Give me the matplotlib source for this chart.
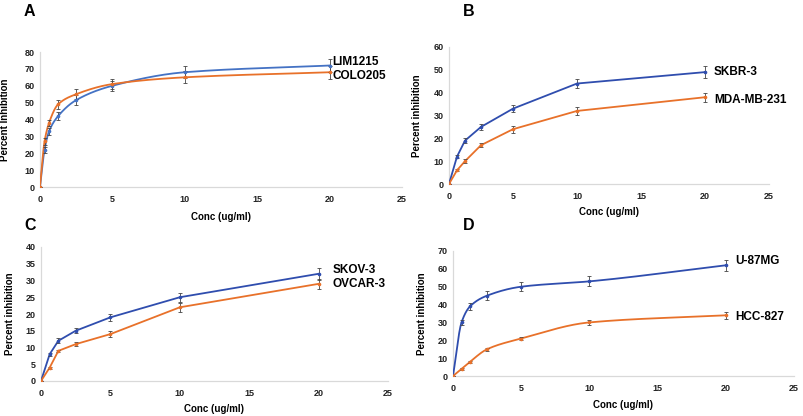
import numpy as np
import matplotlib
matplotlib.use('Agg')
import matplotlib.pyplot as plt

plt.rcParams['font.family'] = ['Liberation Sans', 'DejaVu Sans']
plt.rcParams['font.weight'] = 'bold'

# data
conc_a = [0, 0.3125, 0.625, 1.25, 2.5, 5, 10, 20]
lim1215 = [0, 22, 33, 42, 51.5, 60, 68, 72]
lim1215_err = [0, 2, 2, 2.5, 3, 3, 3.5, 4]
colo205 = [0, 27, 38, 49, 55, 61, 65, 68]
colo205_err = [0, 2, 2, 2.5, 3, 3, 3.5, 4]

conc = [0, 0.625, 1.25, 2.5, 5, 10, 20]
skbr3 = [0, 12, 19, 25, 33, 44, 49]
skbr3_err = [0, 0.8, 1.2, 1.2, 1.5, 2, 2.5]
mda231 = [0, 6, 10, 17, 24, 32, 38]
mda231_err = [0, 0.5, 0.8, 1, 1.5, 1.8, 2]

skov3 = [0, 8, 12, 15, 19, 25, 32]
skov3_err = [0, 0.5, 0.7, 0.8, 1, 1.3, 1.8]
ovcar3 = [0, 4, 9, 11, 14, 22, 29]
ovcar3_err = [0, 0.3, 0.4, 0.7, 0.9, 1.3, 1.5]

u87mg = [0, 30, 39, 45, 50, 53, 62]
u87mg_err = [0, 1.5, 2, 2.5, 2.5, 2.8, 3]
hcc827 = [0, 4, 8, 15, 21, 30, 34]
hcc827_err = [0, 0.5, 0.6, 0.8, 1, 1.2, 1.8]

blue_a = '#4472C4'
blue = '#2F4DAE'
orange = '#E8712A'


def pchip(x, y, n=400):
    # monotone cubic, used for the smoothed curves (A and D)
    x = np.asarray(x, float)
    y = np.asarray(y, float)
    h = np.diff(x)
    d = np.diff(y) / h
    m = np.zeros_like(y)
    for k in range(1, len(x) - 1):
        if d[k - 1] * d[k] > 0:
            w1 = 2 * h[k] + h[k - 1]
            w2 = h[k] + 2 * h[k - 1]
            m[k] = (w1 + w2) / (w1 / d[k - 1] + w2 / d[k])
    m[0] = d[0]
    m[-1] = d[-1]
    xs = np.concatenate([np.linspace(x[i], x[i + 1], n // len(h))[:-1] for i in range(len(h))] + [x[-1:]])
    ys = np.empty_like(xs)
    for j, xv in enumerate(xs):
        i = min(np.searchsorted(x, xv, side='right') - 1, len(h) - 1)
        t = (xv - x[i]) / h[i]
        h00 = 2 * t**3 - 3 * t**2 + 1
        h10 = t**3 - 2 * t**2 + t
        h01 = -2 * t**3 + 3 * t**2
        h11 = t**3 - t**2
        ys[j] = h00 * y[i] + h10 * h[i] * m[i] + h01 * y[i + 1] + h11 * h[i] * m[i + 1]
    return xs, ys


def style(ax, ymax, ystep, xlab_y, ylab_x):
    ax.set_xlim(0, 25)
    ax.set_ylim(0, ymax)
    ax.set_xticks(np.arange(0, 26, 5))
    ax.set_yticks(np.arange(0, ymax + 1, ystep))
    for s in ['top', 'right']:
        ax.spines[s].set_visible(False)
    for s in ['left', 'bottom']:
        ax.spines[s].set_color('#d9d9d9')
        ax.spines[s].set_linewidth(0.9)
    ax.tick_params(length=0, labelsize=6.5, colors='#222222', pad=4)
    ax.tick_params(axis='x', pad=6)
    ax.set_xlabel('Conc (ug/ml)', fontsize=7, fontweight='bold')
    ax.xaxis.set_label_coords(0.5, xlab_y)
    ax.yaxis.set_label_coords(ylab_x, 0.5)


def series(ax, x, y, err, color, smooth):
    if smooth:
        xs, ys = pchip(x, y)
        ax.plot(xs, ys, color=color, lw=1.3, zorder=3)
    else:
        ax.plot(x, y, color=color, lw=1.3, zorder=3)
    ax.errorbar(x, y, yerr=err, fmt='o', ms=1.6, color=color, ecolor='#444444',
                elinewidth=0.6, capsize=1.3, capthick=0.6, zorder=4)


W, H = 804, 416
fig = plt.figure(figsize=(W / 100, H / 100), dpi=100)


def axes_px(x0, x1, ytop, ybot):
    return fig.add_axes([x0 / W, 1 - ybot / H, (x1 - x0) / W, (ybot - ytop) / H])


lab = dict(fontsize=8.5, fontweight='bold', va='center')
letter = dict(fontsize=11.5, fontweight='bold', ha='center', va='center')

# Panel A
ax = axes_px(40, 402, 52, 187)
series(ax, conc_a, lim1215, lim1215_err, blue_a, True)
series(ax, conc_a, colo205, colo205_err, orange, True)
style(ax, 80, 10, -0.185, -0.083)
ax.set_ylabel('Percent Inhibition', fontsize=7, fontweight='bold')
ax.text(20.2, 74, 'LIM1215', **lab)
ax.text(20.2, 65.8, 'COLO205', **lab)
fig.text(29 / W, 1 - 12 / H, 'A', **letter)

# Panel B
ax = axes_px(449, 769, 47, 184)
series(ax, conc, skbr3, skbr3_err, blue, False)
series(ax, conc, mda231, mda231_err, orange, False)
style(ax, 60, 10, -0.17, -0.084)
ax.set_ylabel('Percent inhibition', fontsize=7, fontweight='bold')
ax.text(20.7, 49, 'SKBR-3', **lab)
ax.text(20.7, 36.8, 'MDA-MB-231', **lab)
fig.text(469 / W, 1 - 11 / H, 'B', **letter)

# Panel C
ax = axes_px(41, 388, 247, 381)
series(ax, conc, skov3, skov3_err, blue, False)
series(ax, conc, ovcar3, ovcar3_err, orange, False)
style(ax, 40, 5, -0.175, -0.075)
ax.set_ylabel('Percent inhibition', fontsize=7, fontweight='bold')
ax.text(21, 33.1, 'SKOV-3', **lab)
ax.text(21, 29.0, 'OVCAR-3', **lab)
fig.text(30 / W, 1 - 225 / H, 'C', **letter)

# Panel D
ax = axes_px(453, 794, 251, 376)
series(ax, conc, u87mg, u87mg_err, blue, True)
series(ax, conc, hcc827, hcc827_err, orange, True)
style(ax, 70, 10, -0.19, -0.076)
ax.set_ylabel('Percent inhibition', fontsize=7, fontweight='bold')
ax.text(20.7, 64.4, 'U-87MG', **lab)
ax.text(20.7, 33.0, 'HCC-827', **lab)
fig.text(469 / W, 1 - 225 / H, 'D', **letter)

fig.savefig('out.png', dpi=100)
